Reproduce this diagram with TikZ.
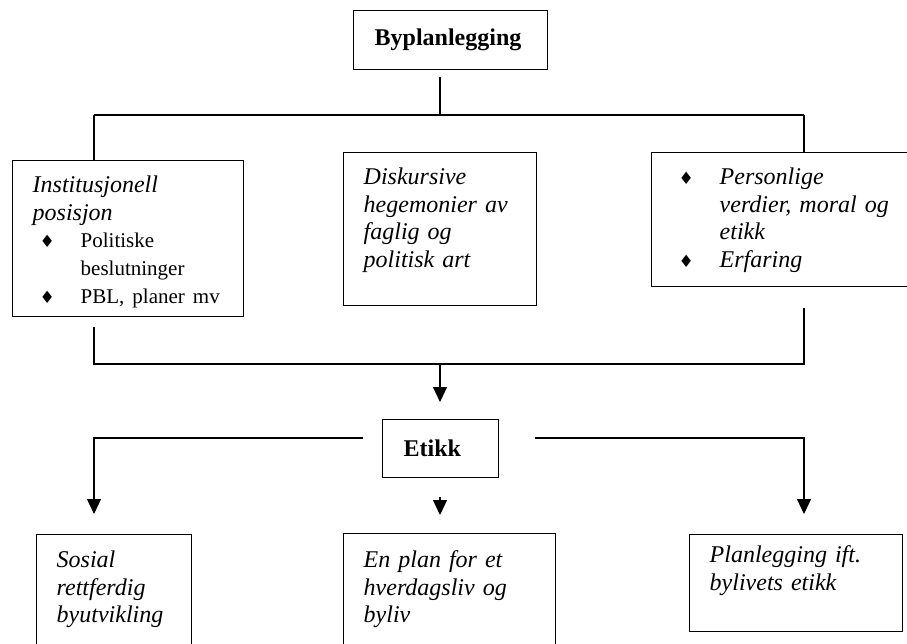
\documentclass[tikz,border=0pt]{standalone}
\usepackage{fontspec}
\setmainfont{Liberation Serif}
\newfontfamily\dejavu{DejaVu Sans}
\usetikzlibrary{arrows.meta,calc}

\newcommand{\rute}{{\dejavu\fontsize{17}{17}\selectfont ♦}}
\newcommand{\pkt}[1]{\makebox[48pt][l]{\hspace{7pt}\rute}#1}
\newcommand{\rett}{\upshape\fontsize{21}{27}\selectfont}

\begin{document}
\begin{tikzpicture}[x=1pt, y=-1pt]
  \tikzstyle{box}=[draw, line width=1.4pt, anchor=north west, align=left, inner xsep=20pt, inner ysep=0pt, font=\fontsize{24}{27.6}\selectfont\itshape]
  \tikzstyle{head}=[draw, line width=1.4pt, anchor=north west, align=left, inner xsep=21pt, font=\fontsize{24}{27.6}\selectfont\bfseries]
  \tikzstyle{ln}=[line width=1.2pt]
  \tikzstyle{pil}=[ln, -{Triangle[length=15pt, width=14pt]}]

  \useasboundingbox (0,0) rectangle (907,643);
  \clip (0,0) rectangle (907,643);

  % overskrift
  \node[head, text width=152pt, minimum height=59pt] (byp) at (353,10) {Byplanlegging};

  % de tre faktorene
  \node[box, text width=191pt, text height=32pt, text depth=124pt] (inst) at (12,160)
    {Institusjonell\\ posisjon\\ {\rett\pkt{Politiske}}\\ {\rett\hspace*{48pt}beslutninger}\\ {\rett\pkt{PBL, planer mv}}};
  \node[box, text width=153pt, text height=32pt, text depth=121pt] (disk) at (343,152)
    {Diskursive\\ hegemonier av\\ faglig og\\ politisk art};
  \node[box, text width=260pt, text height=32pt, text depth=102pt] (pers) at (651,152)
    {\pkt{Personlige}\\ \hspace*{48pt}verdier, moral og\\ \hspace*{48pt}etikk\\ \pkt{Erfaring}};

  % etikk i midten
  \node[head, text width=74pt, minimum height=58pt] (etik) at (382,419) {Etikk};

  % resultatene
  \node[box, text width=115pt, text height=33pt, text depth=107pt] (ut1) at (36,534)
    {Sosial\\ rettferdig\\ byutvikling};
  \node[box, text width=172pt, text height=34pt, text depth=106pt] (ut2) at (343,533)
    {En plan for et\\ hverdagsliv og\\ byliv};
  \node[box, text width=173pt, text height=28pt, text depth=69pt] (ut3) at (689,534)
    {Planlegging ift.\\ bylivets etikk};

  % forgrening fra toppen
  \coordinate (fl) at (94,115);
  \coordinate (fm) at (440,115);
  \coordinate (fr) at (804,115);
  \draw[ln] (fm |- byp.south) ++(0,7) -- (fm);
  \draw[ln] (fl) -- (fr);
  \draw[ln] (fl) -- (fl |- inst.north);
  \draw[ln] (fr) -- (fr |- pers.north);

  % samles mot etikk
  \coordinate (jl) at (94,364);
  \coordinate (jm) at (440,364);
  \coordinate (jr) at (804,364);
  \draw[ln] (jl |- inst.south) ++(0,10) -- (jl) -- (jr) -- ($(jr |- pers.south)+(0,21)$);
  \draw[pil, shorten >=17pt] (jm) -- (jm |- etik.north);

  % ut til de tre resultatene
  \coordinate (el) at (363,438);
  \coordinate (er) at (535,438);
  \coordinate (al) at (94,514);
  \coordinate (ar) at (804,514);
  \coordinate (mt) at (440,497);
  \coordinate (mb) at (440,515);
  \draw[pil] (el) -| (al);
  \draw[pil] (er) -| (ar);
  \draw[pil] (mt) -- (mb);
\end{tikzpicture}
\end{document}
